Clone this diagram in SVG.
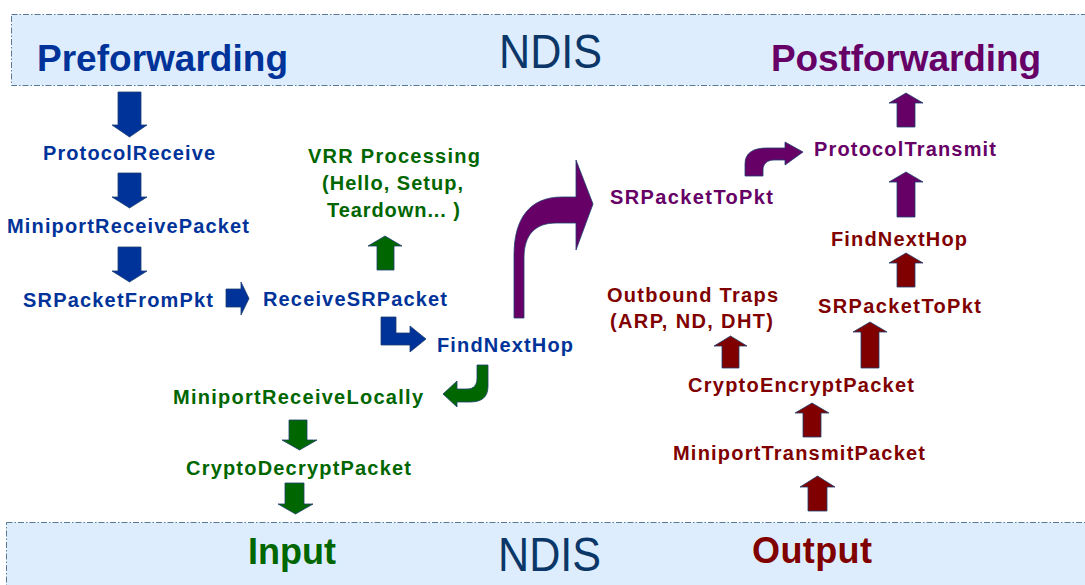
<svg xmlns="http://www.w3.org/2000/svg" width="1085" height="585" viewBox="0 0 1085 585">
<style>
.band{fill:#deedfd;stroke:#5a7898;stroke-width:1;stroke-dasharray:6 2 1.5 2}
.t{font-family:"Liberation Sans",Arial,sans-serif;font-weight:bold;font-size:20px}
.big{font-family:"Liberation Sans",Arial,sans-serif;font-weight:bold;font-size:37px}
.ndis{font-family:"Liberation Sans",Arial,sans-serif;font-size:48px;fill:#0b3768}
.blue{fill:#003399}.green{fill:#006600}.purple{fill:#660066}.red{fill:#800000}
.arr{stroke:#1f3f6f;stroke-width:0.8;stroke-linejoin:miter}
</style>
<g id="band-top">
<rect class="band" x="11.5" y="14.5" width="1100" height="71"/>
<text class="big blue" x="37" y="71" textLength="251" lengthAdjust="spacing">Preforwarding</text>
<text class="ndis" x="499" y="68" textLength="103" lengthAdjust="spacingAndGlyphs">NDIS</text>
<text class="big purple" x="771" y="71" textLength="270" lengthAdjust="spacing">Postforwarding</text>
</g>
<g id="band-bottom">
<rect class="band" x="6.5" y="522.5" width="1100" height="80"/>
<text class="big green" style="font-size:36px" x="248" y="564" textLength="88" lengthAdjust="spacing">Input</text>
<text class="ndis" x="498" y="571" textLength="103" lengthAdjust="spacingAndGlyphs">NDIS</text>
<text class="big red" style="font-size:36px" x="752" y="563" textLength="120" lengthAdjust="spacing">Output</text>
</g>
<g id="n-protocolreceive"><text class="t blue" x="43" y="160" textLength="172" lengthAdjust="spacing">ProtocolReceive</text></g>
<g id="n-miniportreceivepacket"><text class="t blue" x="7" y="233" textLength="242" lengthAdjust="spacing">MiniportReceivePacket</text></g>
<g id="n-srpacketfrompkt"><text class="t blue" x="23" y="307" textLength="190" lengthAdjust="spacing">SRPacketFromPkt</text></g>
<g id="n-receivesrpacket"><text class="t blue" x="263" y="306" textLength="184" lengthAdjust="spacing">ReceiveSRPacket</text></g>
<g id="n-vrr">
<text class="t green" x="308" y="163" textLength="172" lengthAdjust="spacing">VRR Processing</text>
<text class="t green" x="322" y="190" textLength="141" lengthAdjust="spacing">(Hello, Setup,</text>
<text class="t green" x="327" y="217" textLength="133" lengthAdjust="spacing">Teardown... )</text>
</g>
<g id="n-findnexthop-in"><text class="t blue" x="437" y="352" textLength="136" lengthAdjust="spacing">FindNextHop</text></g>
<g id="n-miniportreceivelocally"><text class="t green" x="173" y="404" textLength="250" lengthAdjust="spacing">MiniportReceiveLocally</text></g>
<g id="n-cryptodecryptpacket"><text class="t green" x="186" y="475" textLength="225" lengthAdjust="spacing">CryptoDecryptPacket</text></g>
<g id="n-srpackettopkt-fwd"><text class="t purple" x="610" y="204" textLength="163" lengthAdjust="spacing">SRPacketToPkt</text></g>
<g id="n-protocoltransmit"><text class="t purple" x="814" y="156" textLength="182" lengthAdjust="spacing">ProtocolTransmit</text></g>
<g id="n-findnexthop-out"><text class="t red" x="831" y="246" textLength="136" lengthAdjust="spacing">FindNextHop</text></g>
<g id="n-srpackettopkt-out"><text class="t red" x="818" y="313" textLength="163" lengthAdjust="spacing">SRPacketToPkt</text></g>
<g id="n-outboundtraps">
<text class="t red" x="607" y="302" textLength="171" lengthAdjust="spacing">Outbound Traps</text>
<text class="t red" x="610" y="328" textLength="163" lengthAdjust="spacing">(ARP, ND, DHT)</text>
</g>
<g id="n-cryptoencryptpacket"><text class="t red" x="688" y="392" textLength="226" lengthAdjust="spacing">CryptoEncryptPacket</text></g>
<g id="n-miniporttransmitpacket"><text class="t red" x="673" y="460" textLength="252" lengthAdjust="spacing">MiniportTransmitPacket</text></g>
<g id="connectors">
<!-- blue -->
<polygon class="arr blue" points="118,92 141,92 141,125 147,125 129.5,137 112,125 118,125"/>
<polygon class="arr blue" points="118,173 141,173 141,197 147,197 129.5,208 112,197 118,197"/>
<polygon class="arr blue" points="118,247 141,247 141,271 147,271 129.5,282 112,271 118,271"/>
<polygon class="arr blue" points="226,289 241,289 241,282 249,298.5 241,315 241,307 226,307"/>
<polygon class="arr blue" points="381,317 396,317 396,333 410,333 410,326 426,339 410,352 410,345 381,345"/>
<!-- green -->
<polygon class="arr green" points="377,270 394,270 394,246 402,246 385,236 368,246 377,246"/>
<path class="arr green" d="M488,365 L488,386 C488,398 481,402 470,402 L457,402 L457,407 L443,394 L457,381 L457,389 L467,389 C474,389 477,385 477,378 L477,365 Z"/>
<polygon class="arr green" points="289,420 307,420 307,440 317,440 299.5,450 282,440 289,440"/>
<polygon class="arr green" points="285,483 304,483 304,504 313,504 295.5,514 278,504 285,504"/>
<!-- purple -->
<path class="arr purple" d="M514,318 L514,255 C514,218 530,197 562,197 L576,197 L576,160 L593,204 L576,250 L576,223 L556,223 C535,223 524,235 524,258 L524,318 Z"/>
<path class="arr purple" d="M745,176 L745,164 C745,153 753,148 767,148 L785,148 L785,142 L803,152 L785,165 L785,160 L774,160 C767,160 763,164 763,170 L763,176 Z"/>
<polygon class="arr purple" points="897,127 915,127 915,103 923,103 906,93 889,103 897,103"/>
<polygon class="arr purple" points="897,217 915,217 915,182 923,182 906,172 889,182 897,182"/>
<!-- dark red -->
<polygon class="arr red" points="897,287 915,287 915,263 923,263 906,253 889,263 897,263"/>
<polygon class="arr red" points="861,368 879,368 879,332 887,332 870,322 853,332 861,332"/>
<polygon class="arr red" points="722,368 739,368 739,346 747,346 730.5,336 714,346 722,346"/>
<polygon class="arr red" points="803,437 821,437 821,413 829,413 812,403 795,413 803,413"/>
<polygon class="arr red" points="808,511 827,511 827,487 835,487 817.5,476 800,487 808,487"/>
</g>
</svg>
